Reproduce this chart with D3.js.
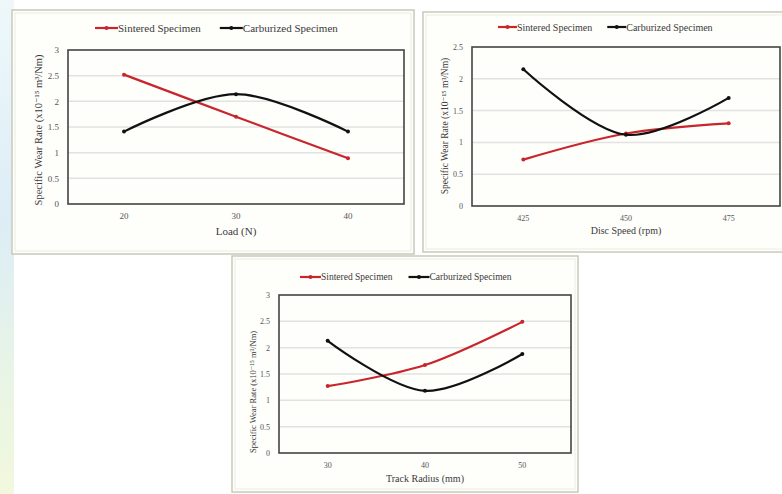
<!DOCTYPE html>
<html>
<head>
<meta charset="utf-8">
<script src="https://cdn.jsdelivr.net/npm/d3@7"></script>
<style>
  body { margin: 0; background: #fff; }
  text { font-family: "Liberation Serif", "DejaVu Serif", serif; fill: #3a3a3a; }
</style>
</head>
<body>
<div id="canvas"></div>
<script>
// data
const seriesNames = ["Sintered Specimen", "Carburized Specimen"];
const seriesColors = ["#c8262c", "#111111"];

const loadCats = ["20", "30", "40"];
const loadSintered = [2.52, 1.70, 0.89];
const loadCarburized = [1.41, 2.14, 1.41];

const speedCats = ["425", "450", "475"];
const speedSintered = [0.73, 1.14, 1.30];
const speedCarburized = [2.15, 1.12, 1.70];

const radiusCats = ["30", "40", "50"];
const radiusSintered = [1.27, 1.67, 2.49];
const radiusCarburized = [2.13, 1.18, 1.88];

const yLabel = "Specific Wear Rate (x10\u207B\u00B9\u2075 m\u00B3/Nm)";

const W = 782, H = 494;

const svg = d3.select("#canvas")
    .append("svg")
    .attr("width", W)
    .attr("height", H);

// faint coloured strip on the left edge of the page
const defs = svg.append("defs");
const grad = defs.append("linearGradient")
    .attr("id", "edge")
    .attr("x1", 0).attr("y1", 0).attr("x2", 0).attr("y2", 1);
grad.append("stop").attr("offset", "0%").attr("stop-color", "#eef8fb");
grad.append("stop").attr("offset", "45%").attr("stop-color", "#dcedf6");
grad.append("stop").attr("offset", "75%").attr("stop-color", "#e8f4e6");
grad.append("stop").attr("offset", "100%").attr("stop-color", "#f1f8dc");
svg.append("rect")
    .attr("x", 0).attr("y", 0)
    .attr("width", 14).attr("height", H)
    .attr("fill", "url(#edge)");

function drawPanel(p) {

    // Frame
    svg.append("rect")
        .attr("x", p.frame[0]).attr("y", p.frame[1])
        .attr("width", p.frame[2] - p.frame[0])
        .attr("height", p.frame[3] - p.frame[1])
        .attr("fill", "#fefefb")
        .attr("stroke", "#c9c9bb")
        .attr("stroke-width", 1.5);
    svg.append("rect")
        .attr("x", p.frame[0] + 3).attr("y", p.frame[1] + 3)
        .attr("width", p.frame[2] - p.frame[0] - 6)
        .attr("height", p.frame[3] - p.frame[1] - 6)
        .attr("fill", "none")
        .attr("stroke", "#ececE4")
        .attr("stroke-width", 1);

    const [x0, y0, x1, y1] = p.plot;

    const x = d3.scaleBand()
        .domain(p.cats)
        .range([x0, x1]);

    const y = d3.scaleLinear()
        .domain([0, p.ymax])
        .range([y1, y0]);

    const ticks = d3.range(0, p.ymax + 0.001, 0.5);

    // Grid lines
    svg.append("g")
        .selectAll("line")
        .data(ticks.slice(1, -1))
        .join("line")
        .attr("x1", x0).attr("x2", x1)
        .attr("y1", d => y(d)).attr("y2", d => y(d))
        .attr("stroke", "#e2e2e2")
        .attr("stroke-width", 1.5);

    // Y axis
    const yAxis = svg.append("g")
        .attr("transform", `translate(${x0 - 6},0)`)
        .call(d3.axisLeft(y).tickValues(ticks).tickSize(0).tickFormat(d3.format("")));
    yAxis.select(".domain").remove();
    yAxis.selectAll("text")
        .style("font-size", p.tickSize + "px")
        .style("fill", "#555");

    // X axis
    const xAxis = svg.append("g")
        .attr("transform", `translate(0,${y1 + 6})`)
        .call(d3.axisBottom(x).tickSize(0));
    xAxis.select(".domain").remove();
    xAxis.selectAll("text")
        .style("font-size", p.tickSize + "px")
        .style("fill", "#555");

    // Plot border
    svg.append("rect")
        .attr("x", x0).attr("y", y0)
        .attr("width", x1 - x0).attr("height", y1 - y0)
        .attr("fill", "none")
        .attr("stroke", "#444")
        .attr("stroke-width", 1.6);

    // Lines and dots
    [p.s1, p.s2].forEach((vals, i) => {
        const pts = vals.map((v, j) => ({ c: p.cats[j], v: v }));
        svg.append("path")
            .datum(pts)
            .attr("fill", "none")
            .attr("stroke", seriesColors[i])
            .attr("stroke-width", 2.2)
            .attr("d", d3.line()
                .curve(d3.curveCatmullRom.alpha(0.5))
                .x(d => x(d.c) + x.bandwidth() / 2)
                .y(d => y(d.v)));
        svg.append("g")
            .selectAll("circle")
            .data(pts)
            .join("circle")
            .attr("cx", d => x(d.c) + x.bandwidth() / 2)
            .attr("cy", d => y(d.v))
            .attr("r", 2)
            .attr("fill", seriesColors[i]);
    });

    // Legend
    let lx = p.legend[0];
    const ly = p.legend[1];
    seriesNames.forEach((name, i) => {
        svg.append("line")
            .attr("x1", lx).attr("x2", lx + p.legendLine)
            .attr("y1", ly).attr("y2", ly)
            .attr("stroke", seriesColors[i])
            .attr("stroke-width", 2.2);
        svg.append("circle")
            .attr("cx", lx + p.legendLine / 2).attr("cy", ly)
            .attr("r", 2)
            .attr("fill", seriesColors[i]);
        const t = svg.append("text")
            .attr("x", lx + p.legendLine)
            .attr("y", ly)
            .attr("dy", "0.35em")
            .style("font-size", p.legendSize + "px")
            .text(name);
        lx += p.legendLine + t.node().getComputedTextLength() + p.legendGap;
    });

    // Axis titles
    svg.append("text")
        .attr("transform", `translate(${p.yTitle[0]},${p.yTitle[1]}) rotate(-90)`)
        .attr("text-anchor", "middle")
        .attr("dy", "0.35em")
        .style("font-size", p.yTitleSize + "px")
        .text(yLabel);

    svg.append("text")
        .attr("x", (x0 + x1) / 2)
        .attr("y", p.xTitleY)
        .attr("text-anchor", "middle")
        .attr("dy", "0.35em")
        .style("font-size", p.xTitleSize + "px")
        .text(p.xTitle);
}

drawPanel({
    frame: [12, 10, 414, 254],
    plot: [68, 50, 404, 204],
    cats: loadCats, s1: loadSintered, s2: loadCarburized,
    ymax: 3,
    legend: [95, 28], legendLine: 23, legendGap: 19, legendSize: 11,
    yTitle: [38, 130], yTitleSize: 10.5,
    tickSize: 9,
    xTitle: "Load (N)", xTitleY: 231, xTitleSize: 11
});

drawPanel({
    frame: [423, 12, 795, 252],
    plot: [472, 47, 780, 206],
    cats: speedCats, s1: speedSintered, s2: speedCarburized,
    ymax: 2.5,
    legend: [498, 27], legendLine: 19, legendGap: 15, legendSize: 10,
    yTitle: [445, 126], yTitleSize: 9.5,
    tickSize: 8,
    xTitle: "Disc Speed (rpm)", xTitleY: 230, xTitleSize: 10
});

drawPanel({
    frame: [232, 256, 578, 492],
    plot: [279, 295, 571, 453],
    cats: radiusCats, s1: radiusSintered, s2: radiusCarburized,
    ymax: 3,
    legend: [300, 277], legendLine: 21, legendGap: 16, legendSize: 9.5,
    yTitle: [253, 392], yTitleSize: 8.5,
    tickSize: 8,
    xTitle: "Track Radius (mm)", xTitleY: 478, xTitleSize: 10
});
</script>
</body>
</html>
